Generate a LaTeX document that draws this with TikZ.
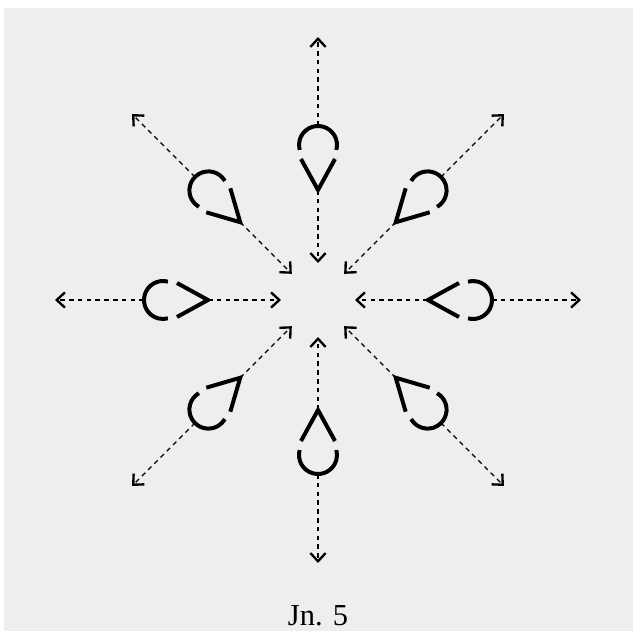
\documentclass[tikz,border=0pt]{standalone}
\usepackage{fontspec}
\setmainfont{Liberation Serif}
\usetikzlibrary{arrows.meta}
\definecolor{scan}{HTML}{EEEEEE}
\tikzset{
  drop/.style={line width=3.4pt},
  flow/.style={line width=1.2pt, dash pattern=on 4pt off 3.5pt,
    -{Straight Barb[length=7pt,width=13pt,line width=2pt]}}
}
\begin{document}
\begin{tikzpicture}[x=0.03cm, y=0.03cm]
  % Page
  \useasboundingbox (-318,-331) rectangle (315,300);
  \fill[white] (-318,-331) rectangle (315,300);
  \fill[scan] (-314,-331) rectangle (315,292);
  % Drops and Arrows
  \foreach \a in {0,45,...,315}{
    \coordinate (in\a) at (\a:37);
    \coordinate (tip\a) at (\a:110);
    \coordinate (top\a) at (\a:174);
    \coordinate (out\a) at (\a:263);
    \draw[drop, rotate=\a] (155,0) ++(-105:19) arc[start angle=-105, end angle=105, radius=19];
    \draw[drop, rotate=\a] (141,17) -- (tip\a) -- (141,-17);
    \draw[flow] (tip\a) -- (in\a);
    \draw[flow] (top\a) -- (out\a);
  }
  % Caption
  \node[anchor=base, font=\fontsize{26}{30}\selectfont] (caption) at (0,-325) {Jn. 5};
\end{tikzpicture}
\end{document}
